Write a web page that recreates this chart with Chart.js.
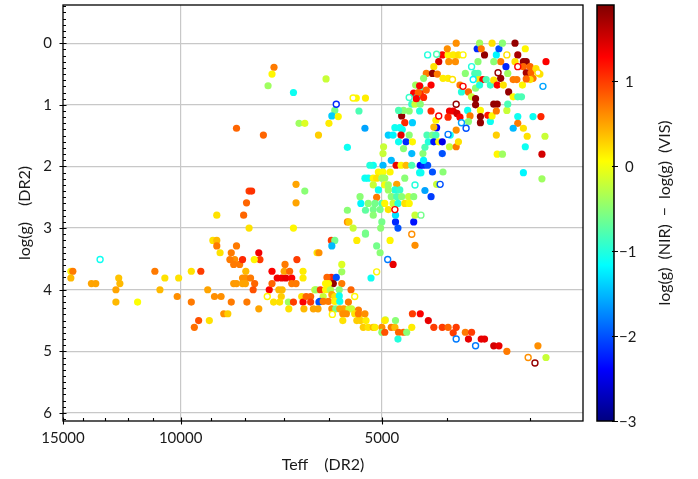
<!DOCTYPE html>
<html><head><meta charset="utf-8">
<script src="https://cdn.jsdelivr.net/npm/chart.js@4.4.1/dist/chart.umd.min.js"></script>
<style>html,body{margin:0;padding:0;background:#fff}#wrap{width:698px;height:479px}</style>
</head><body><div id="wrap"><canvas id="c" width="698" height="479"></canvas></div>
<script>
// ---- data ----
const filledTeff=[
7250,7300,7400,6780,8250,7520,6650,6520,6220,6720,
6520,6720,7900,7830,7970,8050,8830,7900,6780,8950,
8830,8830,8730,8250,8400,8300,8440,8330,8160,8080,
7640,7610,7760,6700,6250,14600,14500,14600,13600,13400,
12380,12330,12500,12500,11600,10930,10560,10740,10070,10120,
9640,9330,9640,9110,8900,8700,8400,8620,8500,9400,
9540,9060,7960,7640,7990,8080,8000,7860,7750,8330,
8250,8080,8000,7790,7370,7300,7300,6980,7170,7060,
6960,6820,7000,6870,6560,6560,6820,6720,7130,7050,
7070,7260,7110,6900,6780,6890,6590,6560,6490,6390,
6540,6390,6300,6210,6330,6230,5950,5880,5940,5450,
6210,5290,5090,5030,5190,5740,5740,5950,5850,5910,
5740,6040,6070,6010,6270,6180,6070,5970,5790,5940,
5880,5790,5560,6120,6190,6120,6010,5880,5780,5940,
5860,5780,5700,5600,5550,5420,5720,5650,5490,5400,
5720,5450,5380,5280,5330,5240,5150,5000,4940,5000,
5630,5375,5290,5630,5600,5520,5290,5000,5020,4860,
4770,4730,4770,4480,4460,4460,4810,5610,5420,5300,
5120,4950,4950,4840,4780,4770,4720,4640,4590,
4730,4510,4500,4380,4260,4180,4060,3980,3870,3910,
3750,3670,3710,3550,3510,3400,3340,3250,2920,2840,
6060,5460,5290,5880,5940,5810,6000,5410,5300,5630,
4480,4380,4430,4330,4510,4460,4380,4550,4390,4670,
4620,4640,4500,4780,4700,4660,4890,4810,4680,4550,
4720,4600,4500,4970,4980,4840,4510,4340,4310,4280,
4200,4150,4260,4180,4140,4110,4060,4060,3960,3870,
3840,3950,4220,3960,3910,3860,5150,4980,5210,4760,
4680,4600,4510,4380,4330,4270,4330,4200,4050,4140,
4310,4220,5060,4980,4860,5300,5240,5150,5090,5000,
4950,4750,4620,5150,5060,4950,4890,4780,4700,4890,
5390,5090,4840,4750,4670,4560,4480,5240,5120,5000,
4950,4810,4730,4620,4550,5150,5030,4890,5150,4390,
4370,3870,3600,3570,3510,3420,3370,3340,3300,3160,
3130,3050,4060,3980,3910,3840,4110,3970,3880,4180,
4290,4200,4130,4050,3980,4330,4450,4380,4220,3820,
3750,3630,3590,3580,3530,3490,3800,3710,3670,3620,
3620,3570,3440,3400,3360,3320,3290,3230,3180,3130,
3090,3180,3140,3080,3240,3160,3070,3040,3070,3000,
3040,2990,2940,2900,2840,2970,3000,3820,3720,3690,
3710,3620,3560,3560,3560,3470,3440,3420,3400,3360,
3370,3250,3240,3130,3130,3180,3070,2970,2890,3030,
2850,3370,3050,3360,3300,2880,3070,2880,4410,4440,
4720,3980,4150,4180,3870,4640,3990,4390,4290,3550,
3320,3260,3400,3590,3040];
const filledLogg=[
0.39,0.50,0.69,0.80,1.38,1.49,1.30,1.30,1.49,2.29,
2.40,2.59,2.40,2.40,2.59,2.79,2.79,3.00,3.00,3.20,
3.20,3.29,3.40,3.29,3.40,3.51,3.51,3.59,3.59,3.51,
3.40,3.51,3.51,3.51,3.40,3.70,3.70,3.81,3.90,3.90,
3.81,3.90,4.00,4.20,4.20,3.70,3.81,4.00,3.81,4.11,
3.70,3.70,4.20,4.00,4.11,4.11,4.20,4.39,4.39,4.50,
4.61,4.50,4.20,4.31,3.70,3.81,3.81,3.81,3.90,3.90,
3.90,3.90,3.90,4.00,4.00,3.70,3.90,3.59,3.81,3.81,
3.81,3.81,3.70,3.70,3.70,3.81,3.90,3.90,4.00,4.00,
4.11,4.20,4.20,4.20,4.20,4.31,4.11,4.20,4.11,4.11,
4.31,4.20,4.00,4.20,4.31,4.31,3.20,3.20,3.29,3.20,
3.40,3.08,3.29,3.40,3.81,3.59,3.71,3.80,3.80,3.90,
3.90,3.80,3.90,3.90,4.00,4.00,4.00,4.00,4.00,4.08,
4.11,4.10,4.00,4.11,4.19,4.19,4.19,4.19,4.19,4.31,
4.31,4.31,4.31,4.31,4.31,4.33,4.39,4.39,4.39,4.41,
4.50,4.50,4.50,4.50,4.61,4.61,4.61,4.61,4.49,4.69,
2.71,2.60,2.71,2.90,2.90,3.00,3.10,2.90,3.00,3.20,
2.90,3.00,2.79,2.90,2.79,3.28,3.59,4.20,4.39,4.39,
4.61,4.50,4.69,4.61,4.61,4.50,4.69,4.69,4.69,
4.80,4.61,4.39,4.39,4.50,4.61,4.61,4.61,4.61,4.70,
4.69,4.69,4.80,4.80,4.80,4.91,4.91,5.00,4.91,5.10,
0.58,0.89,0.89,1.09,1.18,1.19,1.30,1.10,1.38,1.69,
0.81,0.81,0.88,0.88,0.99,0.99,0.99,1.10,1.10,1.18,
1.29,1.09,1.29,1.37,1.37,1.40,1.49,1.49,1.49,1.49,
1.60,1.60,1.60,1.68,1.79,1.90,1.79,1.79,1.69,1.49,
1.49,1.49,1.60,1.60,1.37,1.60,1.60,1.79,1.68,1.68,
1.60,1.49,1.10,1.10,1.10,1.14,1.98,1.98,1.98,1.98,
1.98,1.98,1.98,1.98,1.98,1.98,1.90,2.09,2.09,2.29,
2.39,2.49,2.09,2.09,2.09,2.19,2.19,2.19,2.19,2.19,
2.19,2.29,2.19,2.30,2.38,2.30,2.30,2.38,2.38,2.38,
2.49,2.50,2.49,2.49,2.49,2.49,2.49,2.60,2.60,2.60,
2.60,2.60,2.60,2.60,2.60,2.70,2.70,2.70,2.79,2.10,
2.10,0.00,0.09,0.00,0.19,0.00,0.19,0.09,0.00,0.00,
0.19,0.09,0.19,0.19,0.19,0.19,0.30,0.30,0.30,0.38,
0.49,0.49,0.50,0.57,0.57,0.57,0.68,0.71,0.68,0.68,
0.49,0.49,0.49,0.59,0.59,0.59,0.79,0.79,0.87,0.90,
0.73,0.68,0.68,0.60,0.68,0.57,0.68,0.79,0.87,0.87,
0.87,0.59,0.59,0.68,0.49,0.30,0.30,0.30,0.38,0.38,
0.48,0.48,0.41,0.50,0.30,0.57,0.59,1.20,1.09,1.18,
1.27,1.00,1.09,1.19,1.29,1.17,1.27,1.18,0.99,0.99,
1.10,1.09,0.99,1.19,1.30,1.38,1.38,1.19,1.19,1.51,
1.51,1.49,1.68,1.80,1.80,1.80,2.10,2.20,0.80,0.90,
1.09,1.20,1.25,1.36,1.41,1.71,0.09,0.69,0.76,0.09,
0.30,0.38,0.30,0.30,0.58];
const filledDiff=[
0.7,0.1,-0.4,-1.1,0.8,0.8,-0.4,-0.1,0.3,0.5,
-0.5,0.5,1.0,1.05,0.8,0.8,0.2,0.2,0.1,0.2,
0.4,0.7,0.2,0.7,0.7,0.6,0.7,0.7,0.7,1.1,
1.35,1.0,0.1,1.0,0.2,0.1,0.7,0.4,0.5,0.5,
0.35,0.4,0.5,0.4,0.05,0.7,0.2,0.4,0.2,0.6,
0.2,1.0,0.7,0.5,0.6,0.6,0.7,0.6,0.3,0.9,
0.75,0.2,0.7,0.5,0.4,0.6,0.6,0.7,0.8,0.55,
0.55,0.5,0.5,0.9,1.3,1.3,0.8,0.7,1.35,1.35,
1.4,1.3,0.5,0.8,0.15,0.15,0.7,0.7,0.4,0.4,
0.3,0.2,0.2,-0.4,1.0,0.2,0.2,1.3,0.8,0.8,
0.4,1.0,-0.2,-2.0,0.5,0.5,1.0,-0.6,-1.5,0.15,
0.6,-0.6,-0.6,-0.5,-1.1,-0.1,-0.4,1.1,-2.0,1.8,
0.7,0.8,0.1,0.1,-0.4,1.0,0.1,-0.3,-0.5,0.5,
0.2,-1.1,0.8,-0.2,-2.0,0.7,0.7,0.1,-1.1,0.6,
-0.6,0.5,0.5,-0.2,-0.2,0.7,0.6,0.6,0.2,0.2,
0.2,0.3,0.3,0.15,0.3,0.2,0.4,0.6,-0.2,-0.5,
-0.5,-1.2,-0.7,0.6,0.3,-0.2,-0.6,-0.6,-0.5,0.1,
-2.2,-2.0,-1.3,-2.3,-0.2,0.6,1.4,0.7,0.7,0.6,
0.15,0.15,0.9,0.7,0.4,-0.5,0.8,0.8,-0.5,
-1.0,0.15,1.0,1.3,1.4,1.0,1.0,0.8,1.0,1.0,
0.7,1.0,1.4,1.4,1.4,1.5,1.4,0.7,0.6,-0.2,
-0.2,0.1,0.15,-0.6,-1.4,0.1,0.15,-0.8,-1.6,-1.1,
1.3,1.1,-1.1,1.1,-0.9,-0.2,-0.5,-0.5,-1.0,1.8,
1.1,-0.5,-1.4,-1.1,-1.1,-1.1,-1.4,-1.2,1.4,-0.5,
-1.1,-2.2,0.1,-0.2,-0.2,-1.5,-1.5,-0.5,-0.8,-0.8,
-0.6,-0.8,-1.0,-2.3,-2.4,0.1,-2.5,-2.0,-0.2,0.7,
0.2,-1.1,1.1,1.35,1.35,1.5,-1.1,-1.5,-1.0,1.4,
0.1,0.4,-0.8,-2.4,-2.2,-2.0,-1.2,-2.0,-0.5,-0.2,
-1.6,-2.1,0.1,0.05,0.1,-1.1,-1.1,0.1,0.2,-0.4,
-0.4,0.5,-0.5,-0.2,-1.1,0.0,-0.4,-1.0,-0.9,-0.4,
-0.5,0.7,-0.5,-0.8,-0.5,-0.2,-0.5,-0.5,-0.6,-0.8,
0.1,-0.2,-1.0,0.2,0.1,-0.6,-0.6,0.2,-0.5,-1.1,
-1.1,0.6,-2.2,-0.4,1.8,0.2,-1.2,-2.0,-0.5,1.8,
1.7,0.1,1.3,0.1,0.15,0.2,1.5,0.6,0.6,0.2,
0.7,1.8,0.7,0.15,0.15,-0.5,-0.4,-0.8,1.3,0.7,
-0.5,-0.8,-0.8,0.2,1.3,-0.8,-1.0,0.8,-0.2,1.8,
-0.5,-1.0,-0.9,0.2,1.3,1.8,0.2,1.8,0.1,-0.8,
-0.8,0.7,0.7,0.1,-0.4,0.2,1.8,1.8,0.8,0.8,
1.7,0.8,0.2,0.2,1.3,0.7,0.2,1.3,-1.1,0.7,
-0.5,1.8,0.1,1.8,1.8,1.2,-1.1,0.1,1.8,1.8,
0.7,-0.2,-0.8,-1.1,0.7,-1.5,0.2,-1.1,1.1,0.2,
-0.2,0.3,-1.1,0.1,-0.4,1.5,-1.2,-0.4,0.8,1.3,
-0.8,1.1,0.1,0.4,0.6,-0.5,0.6,1.3,0.8,0.7,
0.7,-2.2,-0.5,-0.5,0.8];
const openTeff=[13200,7420,4900,5090,5490,5930,4370,4510,3870,3620,3020,2950,5520,5850,4550,3980,4110,3870,3800,3740,4090,4460,4780,3250,4270,4140,3780,3920,3780,3670,3650,3350,3130,2920,2870];
const openLogg=[3.51,4.11,3.51,3.71,4.11,4.40,2.79,3.10,4.80,4.91,5.10,5.19,0.89,0.99,0.88,1.48,1.18,0.99,1.29,1.38,2.29,2.30,2.70,0.19,0.19,0.18,0.19,0.59,0.70,0.38,0.59,0.48,0.38,0.48,0.70];
const openDiff=[-1.1,0.1,-1.8,0.1,0.1,0.1,-0.6,0.6,-1.8,-1.8,0.6,1.8,0.1,-2.2,-0.9,-1.8,1.3,1.8,-1.6,-2.0,-2.0,-1.0,1.3,0.2,-1.0,-0.8,0.1,0.2,1.3,-1.0,-1.2,1.8,1.3,0.2,-1.6];

const xMajorTicks=[15000,10000,5000];
const xMinorTicks=[14000,13000,12000,11000,9000,8000,7000,6000,4000,3000];
const yMajorTicks=[0,1,2,3,4,5,6];
const cbTicks=[-3,-2,-1,0,1];
const xRange=[2500,15000];
const yRange=[-0.62,6.13];
const cbRange=[-3,1.9];

// ---- styling ----
const FONT='Lato, "DejaVu Sans", sans-serif';
const TXT='#1a1a1a';
function jet(v){
  const t=Math.min(1,Math.max(0,(v-cbRange[0])/(cbRange[1]-cbRange[0])));
  const f=c=>Math.round(255*Math.min(1,Math.max(0,1.5-Math.abs(4*t-c))));
  return 'rgb('+f(3)+','+f(2)+','+f(1)+')';
}
const pts=(T,G)=>T.map((t,i)=>({x:t,y:G[i]}));
const fmt=v=>(v<0?'\u2212':'')+Math.abs(v);

const decor={
  id:'decor',
  afterDraw(chart){
    const c=chart.ctx, a=chart.chartArea, sx=chart.scales.x, sy=chart.scales.y, cb=chart.scales.cb;
    c.save();
    c.strokeStyle='#000'; c.lineWidth=1.3;
    c.strokeRect(a.left,a.top,a.right-a.left,a.bottom-a.top);
    c.lineWidth=1.1;
    c.beginPath();
    xMajorTicks.forEach(v=>{const p=Math.round(sx.getPixelForValue(v))+0.5;c.moveTo(p,a.bottom-3.5);c.lineTo(p,a.bottom+3.5);});
    xMinorTicks.forEach(v=>{const p=Math.round(sx.getPixelForValue(v))+0.5;c.moveTo(p,a.bottom-3);c.lineTo(p,a.bottom);});
    yMajorTicks.forEach(v=>{const p=Math.round(sy.getPixelForValue(v))+0.5;c.moveTo(a.left-3.5,p);c.lineTo(a.left+3.5,p);});
    for(let k=Math.ceil(yRange[0]*10);k<=Math.floor(yRange[1]*10);k++){
      if(k%10===0) continue;
      const p=Math.round(sy.getPixelForValue(k/10))+0.5;c.moveTo(a.left,p);c.lineTo(a.left+3,p);
    }
    c.stroke();
    // colorbar
    const x0=a.right+14, x1=a.right+31;
    const yTop=cb.getPixelForValue(cbRange[1]), yBot=cb.getPixelForValue(cbRange[0]);
    const g=c.createLinearGradient(0,yBot,0,yTop);
    for(let i=0;i<=40;i++){const v=cbRange[0]+(cbRange[1]-cbRange[0])*i/40;g.addColorStop(i/40,jet(v));}
    c.fillStyle=g; c.fillRect(x0,yTop,x1-x0,yBot-yTop);
    c.lineWidth=1.5; c.strokeStyle='#000'; c.strokeRect(x0,yTop,x1-x0,yBot-yTop);
    c.lineWidth=1.1; c.beginPath();
    cbTicks.forEach(v=>{const p=Math.round(cb.getPixelForValue(v))+0.5;c.moveTo(x1-2,p);c.lineTo(x1+4,p);});
    c.stroke();
    c.fillStyle=TXT; c.font='15px '+FONT; c.textAlign='left'; c.textBaseline='middle';
    cbTicks.forEach(v=>{c.fillText(fmt(v),x1+(v<0?5:11),cb.getPixelForValue(v)+1);});
    c.translate(a.right+82,(a.top+a.bottom)/2); c.rotate(-Math.PI/2);
    c.textAlign='center'; c.font='16px '+FONT;
    c.fillText('log(g)\u2002(NIR)\u2002\u2212\u2002log(g)\u2002(VIS)',0,0);
    c.restore();
  }
};

new Chart(document.getElementById('c'),{
  type:'scatter',
  data:{datasets:[
    {label:'open',data:pts(openTeff,openLogg),pointBackgroundColor:'#ffffff',pointBorderColor:openDiff.map(jet),
     pointBorderWidth:1.4,pointRadius:3,pointHoverRadius:3,order:0},
    {label:'filled',data:pts(filledTeff,filledLogg),pointBackgroundColor:filledDiff.map(jet),pointBorderColor:filledDiff.map(jet),
     pointBorderWidth:0,pointRadius:3.6,pointHoverRadius:3.6,order:1}
  ]},
  options:{
    responsive:false,animation:false,devicePixelRatio:1,
    layout:{padding:{left:0,top:5,right:115,bottom:0}},
    plugins:{legend:{display:false},tooltip:{enabled:false}},
    events:[],
    scales:{
      x:{type:'logarithmic',reverse:true,min:xRange[0],max:xRange[1],position:'bottom',
        afterBuildTicks:s=>{s.ticks=xMajorTicks.map(v=>({value:v}));},
        afterFit:s=>{s.height=58;s.paddingLeft=0;s.paddingRight=0;},
        ticks:{callback:v=>String(v),font:{family:FONT,size:15},color:TXT,padding:8,maxRotation:0,autoSkip:false},
        grid:{color:ctx=>(ctx.tick&&ctx.tick.value===xRange[1])?'rgba(0,0,0,0)':'#c8c8c8',lineWidth:1.2,drawTicks:false},
        border:{display:false},
        title:{display:true,text:'Teff\u2002\u2002(DR2)',font:{family:FONT,size:16},color:TXT,padding:{top:0,bottom:5}}
      },
      y:{type:'linear',reverse:true,min:yRange[0],max:yRange[1],position:'left',
        afterBuildTicks:s=>{s.ticks=yMajorTicks.map(v=>({value:v}));},
        afterFit:s=>{s.width=63;s.paddingTop=0;s.paddingBottom=0;},
        ticks:{font:{family:FONT,size:15},color:TXT,padding:11},
        grid:{color:'#c8c8c8',lineWidth:1.2,drawTicks:false},
        border:{display:false},
        title:{display:true,text:'log(g)\u2002\u2002(DR2)',font:{family:FONT,size:16},color:TXT,padding:{top:15,bottom:0}}
      },
      cb:{type:'linear',display:false,position:'right',min:cbRange[0],max:cbRange[1]}
    }
  },
  plugins:[decor]
});
</script></body></html>
